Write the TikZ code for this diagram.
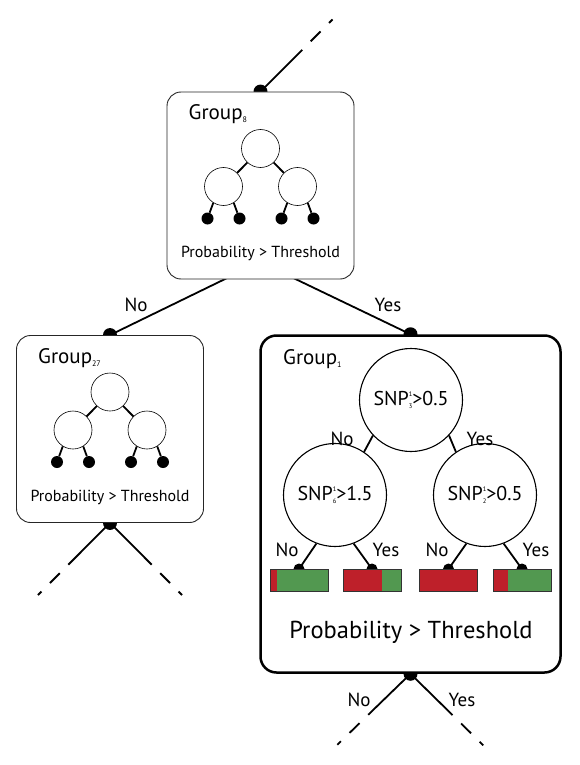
\documentclass[tikz,border=0pt]{standalone}
\usepackage{fontspec}
\setmainfont{PT Sans}
\usetikzlibrary{positioning}

\definecolor{leafred}{RGB}{190,32,42}
\definecolor{leafgreen}{RGB}{82,152,80}

\pgfdeclarelayer{back}
\pgfsetlayers{back,main}

\newcommand{\idx}[2]{\rlap{\raisebox{9.5pt}{\fontsize{6.5}{6.5}\selectfont#1}}\raisebox{-2.5pt}{\fontsize{6.5}{6.5}\selectfont#2}}
\newcommand{\grp}[1]{Group\ensuremath{_{\hbox{\fontsize{8}{8}\selectfont#1}}}}

\begin{document}
\begin{tikzpicture}[x=1pt, y=-1pt,
	groupbox/.style={draw=black!85, fill=white, rounded corners=14pt, line width=0.9pt, minimum width=187pt, minimum height=187pt, inner sep=0pt},
	mainbox/.style={draw, fill=white, rounded corners=16pt, line width=2.5pt, minimum width=300pt, minimum height=337pt, inner sep=0pt},
	smallnode/.style={draw, fill=white, circle, line width=0.6pt, minimum size=38pt, inner sep=0pt},
	splitnode/.style={draw, fill=white, circle, line width=1.1pt, minimum size=103pt, inner sep=0pt, font=\fontsize{20}{22}\selectfont},
	leafdot/.style={fill, circle, minimum size=12pt, inner sep=0pt},
	joint/.style={fill, circle, minimum size=14pt, inner sep=0pt},
	bardot/.style={fill, circle, minimum size=11pt, inner sep=0pt},
	edge/.style={line width=1.8pt},
	tail/.style={line width=1.8pt, dash pattern=on 59pt off 12pt on 14pt off 12pt on 5pt},
	answer/.style={font=\fontsize{19}{21}\selectfont},
	grouplabel/.style={anchor=base west, inner sep=0pt, font=\fontsize{21}{24}\selectfont},
	problabel/.style={font=\fontsize{16}{19}\selectfont},
	leafbar/.style={draw=black!80, fill=leafgreen, line width=0.8pt, minimum width=58pt, minimum height=22pt, inner sep=0pt,
		path picture={\fill[leafred] (path picture bounding box.south west) rectangle ([xshift=#1pt]path picture bounding box.north west);}},
]
	\useasboundingbox (0,0) rectangle (579,765);

	% small groups
	\foreach \g/\cx/\cy/\n in {g8/260.5/185.5/8, g27/110/429/27} {
		\node[groupbox] (\g) at (\cx,\cy) {};
		\node[grouplabel] (\g-name) at ([shift={(-72,-66)}]\g.center) {\grp{\n}};
		\node[smallnode] (\g-top) at ([shift={(0,-37)}]\g.center) {};
		\node[smallnode] (\g-l) at ([shift={(-37,1)}]\g.center) {};
		\node[smallnode] (\g-r) at ([shift={(37,1)}]\g.center) {};
		\node[leafdot] (\g-1) at ([shift={(-53,33)}]\g.center) {};
		\node[leafdot] (\g-2) at ([shift={(-21,33)}]\g.center) {};
		\node[leafdot] (\g-3) at ([shift={(21,33)}]\g.center) {};
		\node[leafdot] (\g-4) at ([shift={(53,33)}]\g.center) {};
		\draw[edge] (\g-top.227) -- (\g-l.45);
		\draw[edge] (\g-top.313) -- (\g-r.135);
		\draw[edge] (\g-l.238) -- (\g-1);
		\draw[edge] (\g-l.302) -- (\g-2);
		\draw[edge] (\g-r.238) -- (\g-3);
		\draw[edge] (\g-r.302) -- (\g-4);
		\node[problabel] (\g-prob) at ([shift={(0,68)}]\g.center) {Probability > Threshold};
	}

	% main group
	\node[mainbox] (g1) at (410.5,504) {};
	\node[grouplabel] (g1-name) at (283,364) {\grp{1}};
	\node[splitnode] (root) at (411,400) {SNP\idx{1}{3}>0.5};
	\node[splitnode] (left) at (335,495) {SNP\idx{1}{6}>1.5};
	\node[splitnode] (right) at (485,495) {SNP\idx{1}{2}>0.5};
	\draw[edge] (root.223) -- (left.56);
	\draw[edge] (root.317) -- (right.124);
	\node[answer] (rootNo) at (342,439) {No};
	\node[answer] (rootYes) at (480,439) {Yes};

	\node[bardot] (d1) at (299,569) {};
	\node[bardot] (d2) at (372,569) {};
	\node[bardot] (d3) at (448.5,569) {};
	\node[bardot] (d4) at (522,569) {};
	\draw[edge] (left.249) -- (d1.center);
	\draw[edge] (left.291) -- (d2.center);
	\draw[edge] (right.249) -- (d3.center);
	\draw[edge] (right.291) -- (d4.center);
	\node[leafbar=7, anchor=north] (bar1) at (d1.center) {};
	\node[leafbar=39, anchor=north] (bar2) at (d2.center) {};
	\node[leafbar=58, anchor=north] (bar3) at (d3.center) {};
	\node[leafbar=15, anchor=north] (bar4) at (d4.center) {};
	\node[answer] (leftNo) at (287,550) {No};
	\node[answer] (leftYes) at (386,550) {Yes};
	\node[answer] (rightNo) at (437,550) {No};
	\node[answer] (rightYes) at (536,550) {Yes};
	\node[problabel, font=\fontsize{24.5}{28}\selectfont] (g1-prob) at (411,632) {Probability > Threshold};

	% links between groups
	\begin{pgfonlayer}{back}
		\node[joint] (g8in) at (g8.north) {};
		\node[joint] (g27in) at (g27.north) {};
		\node[joint] (g1in) at (g1.north) {};
		\node[joint] (g27out) at (g27.south) {};
		\node[joint] (g1out) at (g1.south) {};
		\coordinate (g8out) at (260,262);
		\coordinate (g8tail) at (335,17);
		\coordinate (g27tailL) at (35,598);
		\coordinate (g27tailR) at (185,598);
		\coordinate (g1tailL) at (335,747);
		\coordinate (g1tailR) at (485,747);
		\draw[tail] (g8in.center) -- (g8tail);
		\draw[edge] (g8out) -- (g27in.center);
		\draw[edge] (g8out) -- (g1in.center);
		\draw[tail] (g27out.center) -- (g27tailL);
		\draw[tail] (g27out.center) -- (g27tailR);
		\draw[tail] (g1out.center) -- (g1tailL);
		\draw[tail] (g1out.center) -- (g1tailR);
	\end{pgfonlayer}
	\node[answer] (g8No) at (136,305) {No};
	\node[answer] (g8Yes) at (388,305) {Yes};
	\node[answer] (g1No) at (359,700) {No};
	\node[answer] (g1Yes) at (462,700) {Yes};
\end{tikzpicture}
\end{document}
